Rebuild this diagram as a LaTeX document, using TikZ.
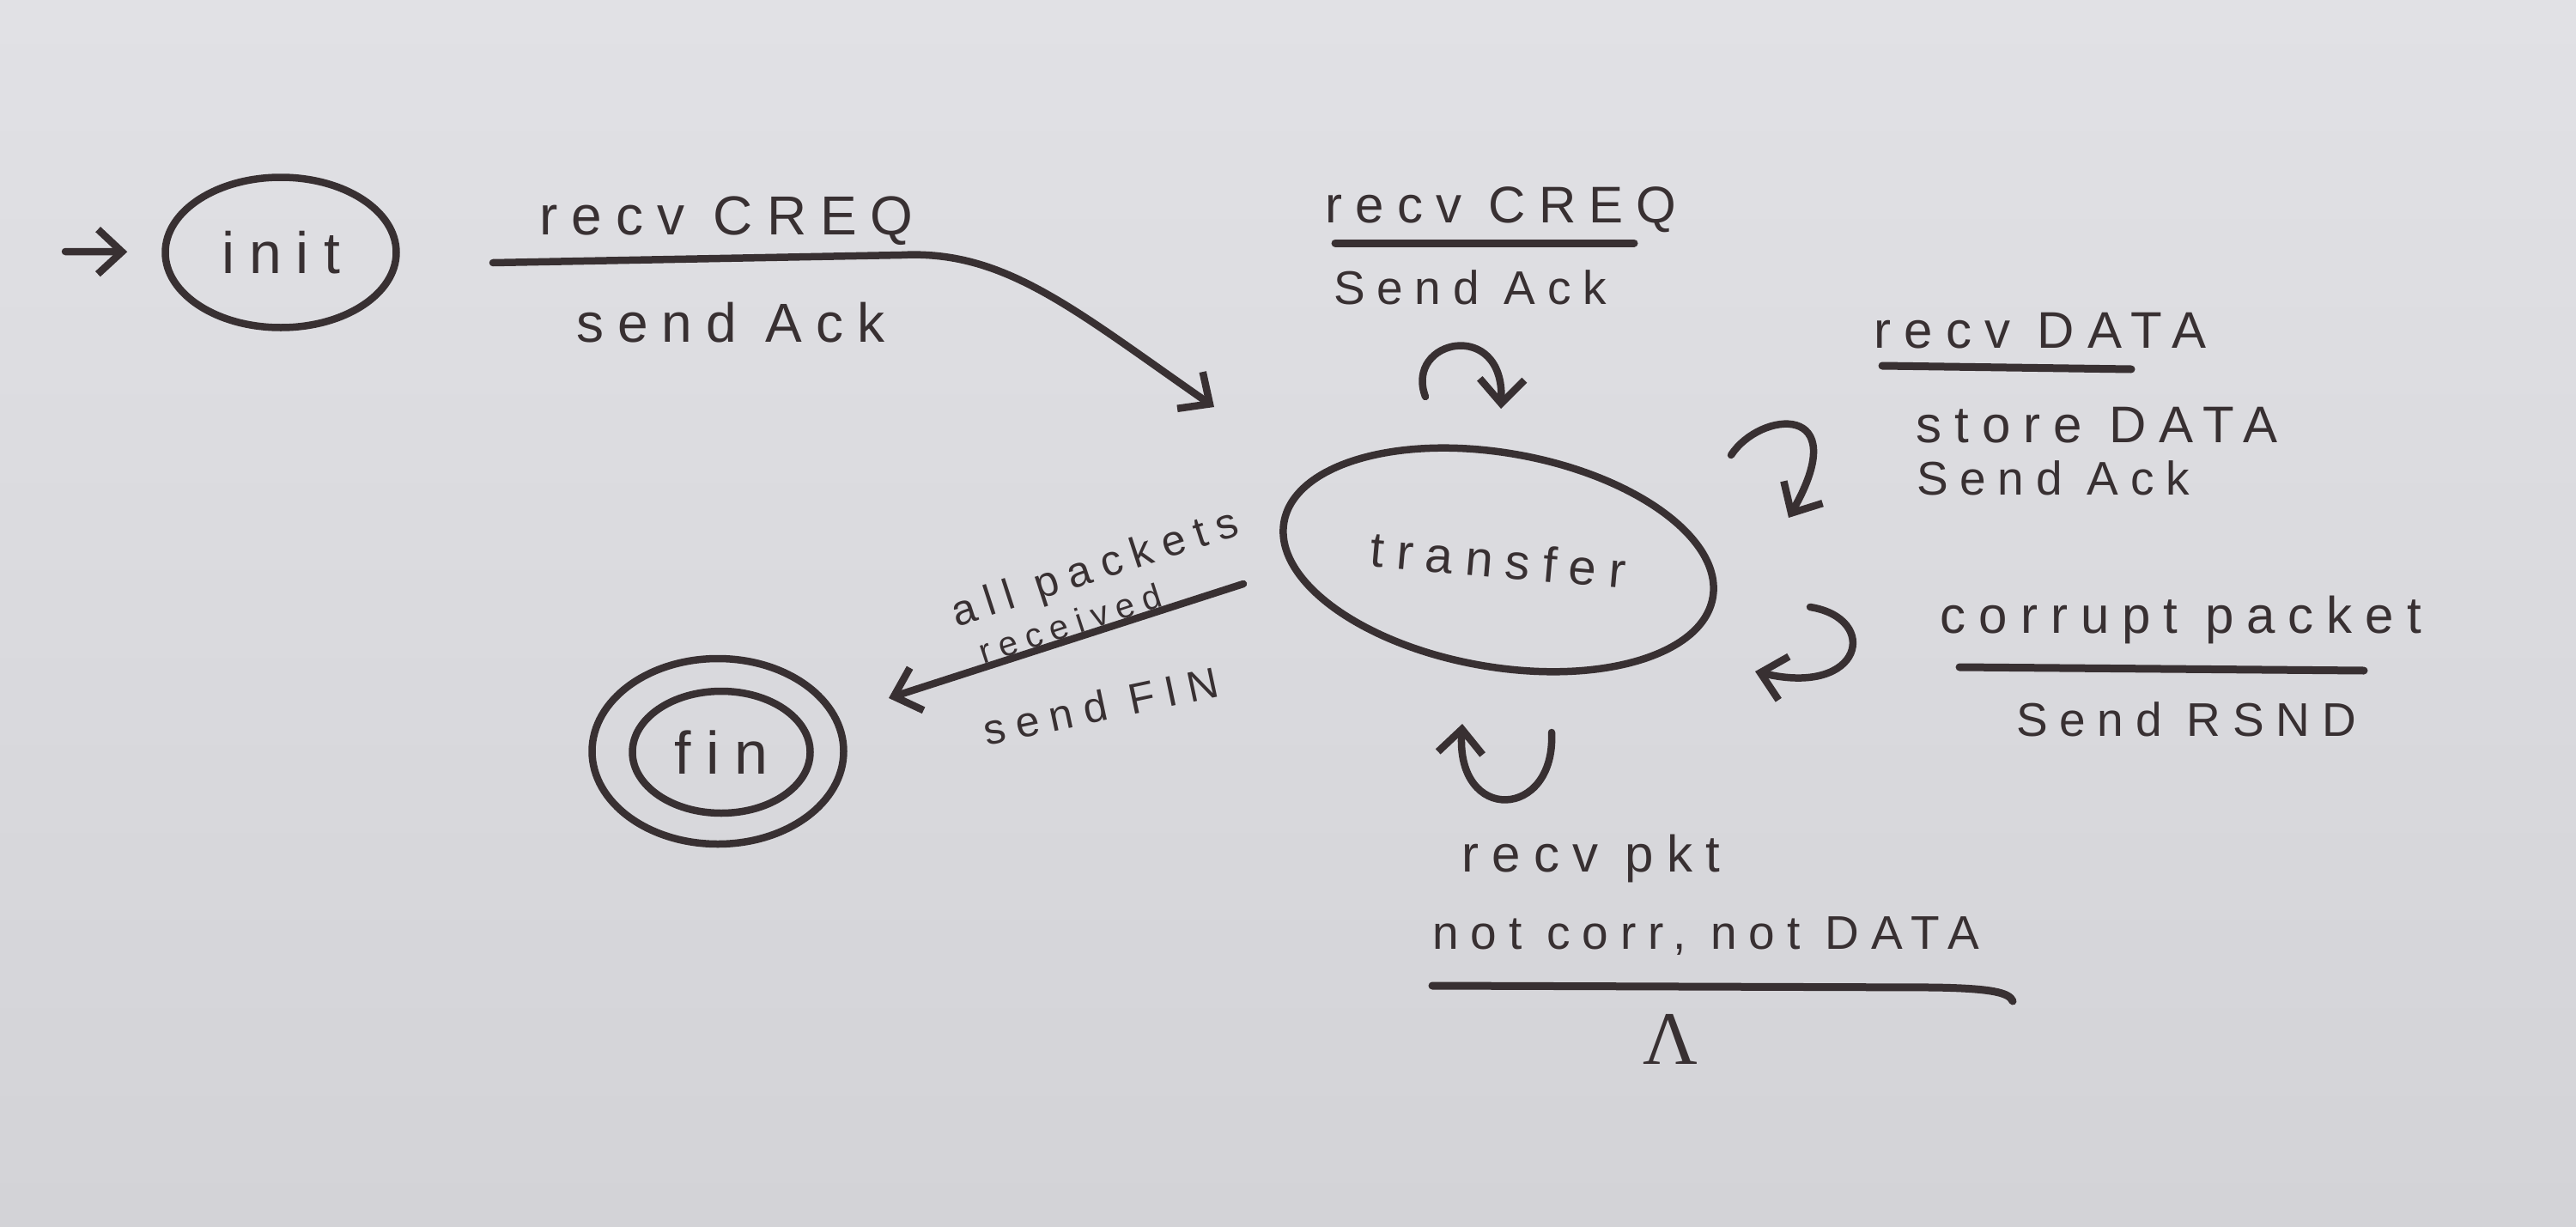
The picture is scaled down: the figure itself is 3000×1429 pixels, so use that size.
\documentclass[tikz,border=0pt]{standalone}
\usepackage{fontspec}
\setmainfont{Liberation Sans}[LetterSpace=25]
\newfontfamily\lamfont{Liberation Serif}
\usetikzlibrary{arrows.meta,shapes.geometric}
\definecolor{ink}{RGB}{56,48,50}
\definecolor{paperA}{RGB}{225,225,229}
\definecolor{paperB}{RGB}{211,211,215}
\tikzset{
  pen/.style={draw=ink, line width=8.5pt, line cap=round, line join=round},
  arr/.style={pen, -{Straight Barb[length=28pt,width=52pt]}},
  state/.style={ellipse, pen, inner sep=0pt, text=ink, font=\fontsize{64}{70}\selectfont},
  ring/.style={ellipse, pen, inner sep=0pt},
  lbl/.style={text=ink, inner sep=0pt, font=\fontsize{60}{66}\selectfont},
  biglbl/.style={lbl, font=\fontsize{64}{70}\selectfont},
  midlbl/.style={lbl, font=\fontsize{55}{60}\selectfont},
  smalllbl/.style={lbl, font=\fontsize{40}{44}\selectfont},
  bar/.style={pen, line width=9pt},
}
\begin{document}
\begin{tikzpicture}[x=1pt,y=-1pt]
\shade[top color=paperA, bottom color=paperB] (0,0) rectangle (3000,1429);
\useasboundingbox (0,0) rectangle (3000,1429);

% states
\node[state, font=\fontsize{68}{72}\selectfont, minimum width=269pt, minimum height=175pt] (init) at (327,294) {init};
\node[state, font=\fontsize{58}{64}\selectfont, minimum width=507pt, minimum height=249pt, rotate=-10] (transfer) at (1745,652) {\rotatebox{5}{transfer}\hspace{40pt}};
\node[state, font=\fontsize{70}{74}\selectfont, minimum width=207pt, minimum height=142pt] (fin) at (840,876) {fin};
\node[ring, minimum width=293pt, minimum height=216pt] (finring) at (836,875) {};

% initial arrow
\coordinate (entry) at (76,293);
\draw[arr, shorten >=40pt] (entry) -- (init);

% init -> transfer
\coordinate (a1s) at (574,306);
\coordinate (a1m) at (1050,297);
\coordinate (a1e) at (1414,474);
\draw[arr] (a1s) -- (a1m) .. controls (1170,291) and (1250,360) .. (a1e);
\node[biglbl] (l1a) at (846,257) {recv CREQ};
\node[biglbl] (l1b) at (851,376) {send Ack};

% self loop top
\coordinate (t1s) at (1660,462);
\coordinate (t1e) at (1748,476);
\draw[arr] (t1s) .. controls (1635,395) and (1752,370) .. (t1e);
\coordinate (b2s) at (1555,283);
\coordinate (b2e) at (1903,283);
\draw[bar] (b2s) -- (b2e);
\node[lbl] (l2a) at (1748,244) {recv CREQ};
\node[midlbl] (l2b) at (1712,335) {Send Ack};

% self loop upper right
\coordinate (t2s) at (2016,530);
\coordinate (t2e) at (2083,603);
\draw[arr] (t2s) .. controls (2050,478) and (2160,468) .. (t2e);
\coordinate (b3s) at (2192,426);
\coordinate (b3e) at (2482,430);
\draw[bar] (b3s) -- (b3e);
\node[lbl] (l3a) at (2376,385) {recv DATA};
\node[lbl] (l3b) at (2442,495) {store DATA};
\node[midlbl] (l3c) at (2391,557) {Send Ack};

% self loop lower right
\coordinate (t3s) at (2108,707);
\coordinate (t3e) at (2044,782);
\draw[arr] (t3s) .. controls (2190,720) and (2170,812) .. (t3e);
\coordinate (b4s) at (2282,777);
\coordinate (b4e) at (2753,781);
\draw[bar] (b4s) -- (b4e);
\node[lbl] (l4a) at (2540,722) {corrupt packet};
\node[midlbl] (l4b) at (2546,838) {Send RSND};

% self loop bottom
\coordinate (t4s) at (1807,853);
\coordinate (t4e) at (1703,843);
\draw[arr] (t4s) .. controls (1812,955) and (1695,960) .. (t4e);
\coordinate (b5s) at (1668,1148);
\coordinate (b5m) at (2250,1150);
\coordinate (b5e) at (2344,1166);
\draw[bar] (b5s) -- (b5m) .. controls (2320,1151) and (2340,1156) .. (b5e);
\node[lbl] (l5a) at (1853,1000) {recv pkt};
\node[lbl, font=\fontsize{55}{60}\selectfont] (l5b) at (1987,1090) {not corr, not DATA};
\node[lbl, font=\lamfont\fontsize{88}{88}\selectfont] (l5c) at (1945,1210) {Λ};

% transfer -> fin
\coordinate (f1) at (1448,680);
\coordinate (f2) at (1035,813);
\draw[arr] (f1) -- (f2);
\node[lbl, font=\fontsize{50}{54}\selectfont, rotate=18] (l6a) at (1276,664) {all packets};
\node[smalllbl, rotate=18] (l6b) at (1246,726) {received};
\node[lbl, font=\fontsize{50}{54}\selectfont, rotate=12] (l6c) at (1282,822) {send FIN};
\end{tikzpicture}
\end{document}
